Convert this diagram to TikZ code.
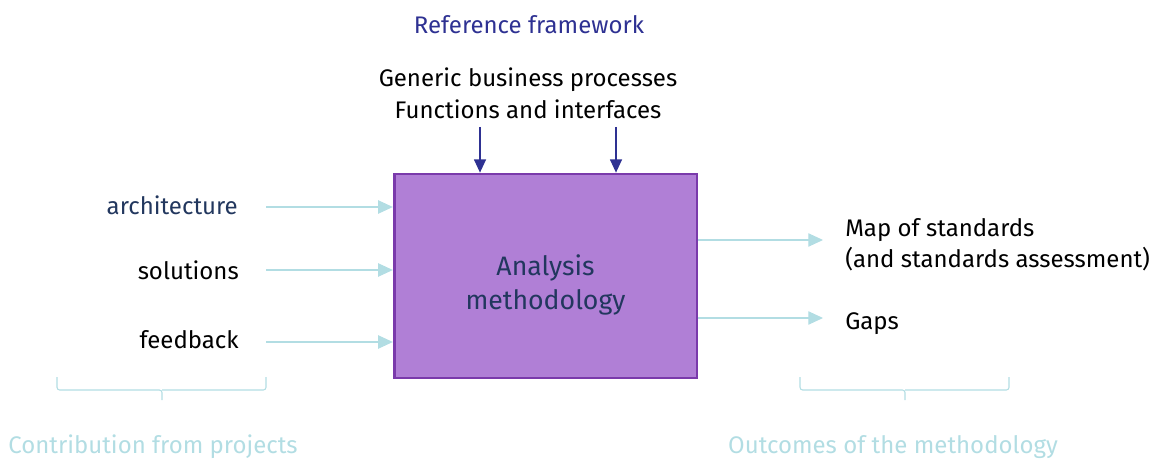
\documentclass[tikz,border=0pt]{standalone}
\usepackage{fontspec}
\setmainfont{Fira Sans}
\usetikzlibrary{arrows.meta, positioning, calc}
\definecolor{boxfill}{HTML}{B07FD6}
\definecolor{boxline}{HTML}{7A3AAB}
\definecolor{navy}{HTML}{2E3192}
\definecolor{inkblue}{HTML}{22375E}
\definecolor{paleblue}{HTML}{B2DDE3}
\tikzset{
  methodbox/.style={draw=boxline, line width=2pt, fill=boxfill, minimum width=227pt, minimum height=153pt},
  lbl/.style={font=\fontsize{18}{24}\selectfont, inner sep=0pt},
  inarr/.style={draw=paleblue, line width=0.8pt, -{Triangle[length=11pt, width=10pt]}},
  toparr/.style={draw=navy, line width=1.1pt, -{Triangle[length=10pt, width=9pt]}},
  brace/.style={draw=paleblue, line width=0.8pt, rounded corners=2pt},
}
\begin{document}
\begin{tikzpicture}[x=0.75pt, y=-0.75pt]
  \useasboundingbox (0,0) rectangle (1162,459);
  % central block
  \node[methodbox] (box) at (545.5,276) {};
  \node[lbl, text=inkblue, align=center, font=\fontsize{20}{25.5}\selectfont] (meth) at ($(box.center)+(0,9)$) {Analysis\\methodology};
  % reference framework on top
  \node[lbl, text=navy] (ref) at (529,25) {Reference framework};
  \node[lbl, align=center] (generic) at (528,93) {Generic business processes\\Functions and interfaces};
  \coordinate (t1) at (480,127);
  \coordinate (t2) at (616,127);
  \draw[toparr] (t1) -- (t1 |- box.north);
  \draw[toparr] (t2) -- (t2 |- box.north);
  % inputs from projects
  \node[lbl, anchor=east, text=inkblue] (arch) at (238,205) {architecture};
  \node[lbl, anchor=east] (sol) at (239,270) {solutions};
  \node[lbl, anchor=east] (feed) at (239,340) {feedback};
  \foreach \n/\y in {arch/207, sol/270, feed/342} {
    \coordinate (s\n) at (266,\y);
    \draw[inarr] (s\n) -- (s\n -| box.west);
  }
  % outcomes
  \node[lbl, anchor=west, align=left, font=\fontsize{18}{23}\selectfont] (map) at (845,245) {Map of standards\\(and standards assessment)};
  \node[lbl, anchor=west] (gaps) at (845,324) {Gaps};
  \coordinate (e1) at (823,240);
  \coordinate (e2) at (823,318);
  \draw[inarr] (e1 -| box.east) -- (e1);
  \draw[inarr] (e2 -| box.east) -- (e2);
  % braces
  \draw[brace] (57,377) |- (162,390) -- (162,400);
  \draw[brace] (162,390) -| (266,377);
  \draw[brace] (800,377) |- (905,390) -- (905,400);
  \draw[brace] (905,390) -| (1009,377);
  \node[lbl, text=paleblue] (contrib) at (153,447) {Contribution from projects};
  \node[lbl, text=paleblue] (outc) at (893,447) {Outcomes of the methodology};
\end{tikzpicture}
\end{document}
